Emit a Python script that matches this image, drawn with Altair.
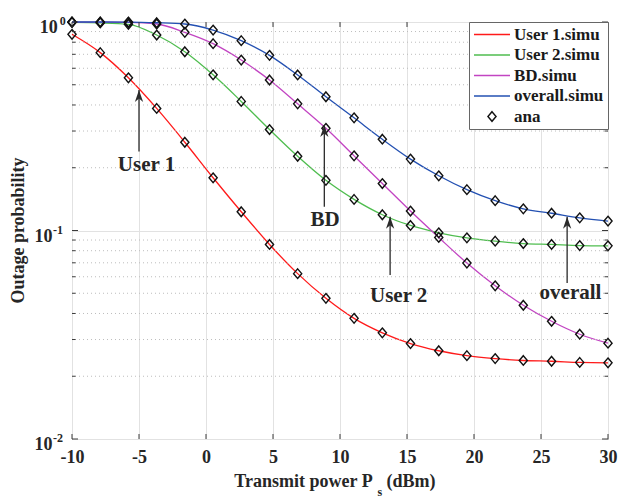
import altair as alt
import pandas as pd

# ---------------- data ----------------
x_db = [-10.0, -7.89, -5.79, -3.68, -1.58, 0.53, 2.63, 4.74, 6.84, 8.95,
        11.05, 13.16, 15.26, 17.37, 19.47, 21.58, 23.68, 25.79, 27.89, 30.0]

user1 = [0.873, 0.713, 0.540, 0.385, 0.265, 0.179, 0.123, 0.0857, 0.0621, 0.0473,
         0.0379, 0.0323, 0.0287, 0.0265, 0.0251, 0.0243, 0.0238, 0.0236, 0.0233, 0.0232]
user2 = [0.995, 0.990, 0.975, 0.866, 0.720, 0.558, 0.416, 0.305, 0.227, 0.174,
         0.141, 0.119, 0.1057, 0.0975, 0.0922, 0.0889, 0.0866, 0.0857, 0.0847, 0.0844]
bd = [0.999, 0.998, 0.995, 0.978, 0.892, 0.787, 0.657, 0.527, 0.405, 0.309,
      0.228, 0.168, 0.124, 0.0926, 0.0698, 0.0543, 0.0438, 0.0367, 0.0318, 0.0288]
overall = [1.0, 1.0, 0.999, 0.992, 0.978, 0.915, 0.814, 0.692, 0.557, 0.438,
           0.347, 0.274, 0.220, 0.183, 0.157, 0.139, 0.127, 0.121, 0.115, 0.111]

series_names = ["User 1.simu", "User 2.simu", "BD.simu", "overall.simu"]
legend_names = series_names + ["ana"]
legend_colors = ["#ff1a1a", "#4fbd4f", "#c244c2", "#2350b2", "#111111"]

x_major = [-10, -5, 0, 5, 10, 15, 20, 25, 30]
y_major = [0.01, 0.1, 1]
y_minor = [0.02, 0.03, 0.04, 0.05, 0.06, 0.07, 0.08, 0.09,
           0.2, 0.3, 0.4, 0.5, 0.6, 0.7, 0.8, 0.9]
y_label_base = ["10", "10", "10"]
y_label_exp = ["-2", "-1", "0"]

ann_labels = ["User 1", "BD", "User 2", "overall"]
ann_text_x = [-4.44, 8.89, 14.38, 27.2]
ann_text_y = [0.1935, 0.1054, 0.0454, 0.0468]
arrow_x = [-5.0, 8.83, 13.74, 26.95]
arrow_tip = [0.472, 0.321, 0.1165, 0.1165]
arrow_tail = [0.239, 0.130, 0.0612, 0.056]

# ---------------- styling ----------------
W, H = 536, 417
FONT = "Liberation Serif"
TXT = "#262626"
FRAME = "#3a3a3a"
LINE_SYM = "M-3,0H3"
DIAMOND = "M0,-0.8L0.68,0L0,0.8L-0.68,0Z"
ARROW = "M0,0L0.55,1.6L0,1.15L-0.55,1.6Z"

xscale = alt.Scale(domain=[-10, 30], nice=False, zero=False)
yscale = alt.Scale(type="log", domain=[0.01, 1], nice=False)

rows = []
for name, vals in zip(series_names, [user1, user2, bd, overall]):
    for xv, yv in zip(x_db, vals):
        rows.append({"x": xv, "p": yv, "legend": name})
sim_df = pd.DataFrame(rows)
ana_df = sim_df.assign(legend="ana")

leg = alt.Legend(title=None, orient="top-right", offset=0, padding=4,
                 strokeColor="#666666", fillColor="white",
                 labelFont=FONT, labelFontSize=17, labelFontWeight="bold",
                 labelColor="#1a1a1a", labelLimit=400,
                 symbolSize=144, symbolStrokeWidth=1.4,
                 symbolOffset=10.5, labelOffset=13.5, rowPadding=2.5)

color = alt.Color("legend:N", scale=alt.Scale(domain=legend_names, range=legend_colors), legend=leg)
shape = alt.Shape("legend:N", scale=alt.Scale(domain=legend_names,
                                               range=[LINE_SYM] * 4 + [DIAMOND]), legend=leg)

xaxis = alt.Axis(values=x_major, labelExpr="'' + datum.value", labelFlush=False,
                 labelOverlap=False, grid=True, gridColor="#e2e2e2", gridWidth=1,
                 ticks=False, domain=False, labelPadding=9, labelFont=FONT,
                 labelFontSize=18, labelFontWeight="bold", labelColor=TXT, title=None)
yaxis = alt.Axis(values=y_major, labels=False, ticks=False, domain=False, grid=True,
                 gridColor="#e2e2e2", gridWidth=1, title=None)

X = lambda f: alt.X(f, type="quantitative", scale=xscale, axis=xaxis)
Y = lambda f: alt.Y(f, type="quantitative", scale=yscale, axis=yaxis)

minor_df = pd.DataFrame({"v": y_minor})
major_df = pd.DataFrame({"v": y_major})
xmaj_df = pd.DataFrame({"v": x_major})

minor_grid = alt.Chart(minor_df).mark_rule(strokeDash=[1, 3], color="#bdbdbd", strokeWidth=1).encode(
    y=Y("v"))

lines = alt.Chart(sim_df).mark_line(interpolate="monotone", strokeWidth=1.3).encode(
    x=X("x"), y=Y("p"), color=color)

points = alt.Chart(ana_df).mark_point(filled=False, size=144, strokeWidth=1.4, opacity=1).encode(
    x=X("x"), y=Y("p"), color=color, shape=shape)

tick_layers = [
    alt.Chart(major_df).mark_rule(color=FRAME).encode(y=Y("v"), x=alt.value(0), x2=alt.value(6)),
    alt.Chart(minor_df).mark_rule(color=FRAME).encode(y=Y("v"), x=alt.value(0), x2=alt.value(3.5)),
    alt.Chart(major_df).mark_rule(color=FRAME).encode(y=Y("v"), x=alt.value(W), x2=alt.value(W - 6)),
    alt.Chart(minor_df).mark_rule(color=FRAME).encode(y=Y("v"), x=alt.value(W), x2=alt.value(W - 3.5)),
    alt.Chart(xmaj_df).mark_rule(color=FRAME).encode(x=X("v"), y=alt.value(H), y2=alt.value(H - 5)),
    alt.Chart(xmaj_df).mark_rule(color=FRAME).encode(x=X("v"), y=alt.value(0), y2=alt.value(5)),
]

ann_df = pd.DataFrame({"label": ann_labels, "tx": ann_text_x, "ty": ann_text_y,
                       "ax": arrow_x, "tip": arrow_tip, "tail": arrow_tail})
shafts = alt.Chart(ann_df).mark_rule(color="#2a2a2a", strokeWidth=1.3).encode(
    x=X("ax"), y=Y("tail"), y2=alt.Y2("tip"))
heads = alt.Chart(ann_df).mark_point(shape=ARROW, filled=True, size=225, color="#2a2a2a",
                                     opacity=1, strokeWidth=0).encode(x=X("ax"), y=Y("tip"))
ann_text = alt.Chart(ann_df).mark_text(font=FONT, fontSize=21, fontWeight="bold", color=TXT,
                                       align="center", baseline="alphabetic").encode(
    x=X("tx"), y=Y("ty"), text="label:N")

# y tick labels 10^k with superscript exponent
ylab_layers = []
junction = {"0": (-14.3, -12.3), "-1": (-19.5, -19.0), "-2": (-19.5, -19.0)}
for v, b, e in zip(y_major, y_label_base, y_label_exp):
    d = pd.DataFrame({"v": [v], "b": [b], "e": [e]})
    bx, ex = junction[e]
    ylab_layers.append(alt.Chart(d).mark_text(font=FONT, fontSize=18, fontWeight="bold", color=TXT,
                                              align="right", baseline="alphabetic", dy=11).encode(
        x=alt.value(bx), y=Y("v"), text="b:N"))
    ylab_layers.append(alt.Chart(d).mark_text(font=FONT, fontSize=12, fontWeight="bold", color=TXT,
                                              align="left", baseline="alphabetic", dy=3).encode(
        x=alt.value(ex), y=Y("v"), text="e:N"))

# axis titles
def txt(s, x, y, size, align, angle=0):
    return alt.Chart(pd.DataFrame({"t": [s]})).mark_text(
        font=FONT, fontSize=size, fontWeight="bold", color=TXT, align=align,
        baseline="alphabetic", angle=angle).encode(x=alt.value(x), y=alt.value(y), text="t:N")

titles = [
    txt("Transmit power P", 300.7, 464.7, 18, "right"),
    txt("s", 305.5, 473.5, 12, "left"),
    txt("(dBm)", 314.5, 464.7, 18, "left"),
    txt("Outage probability", -48.5, H / 2, 18, "center", angle=270),
]

chart = alt.layer(lines, minor_grid, points, *tick_layers, shafts, heads, ann_text,
                  *ylab_layers, *titles).properties(
    width=W, height=H,
    autosize=alt.AutoSizeParams(type="none"),
    padding={"left": 72, "top": 22, "right": 11, "bottom": 59},
    background="white",
).configure_view(stroke=FRAME, strokeWidth=1)

chart.save("out.html", embed_options={"renderer": "svg", "actions": False})
